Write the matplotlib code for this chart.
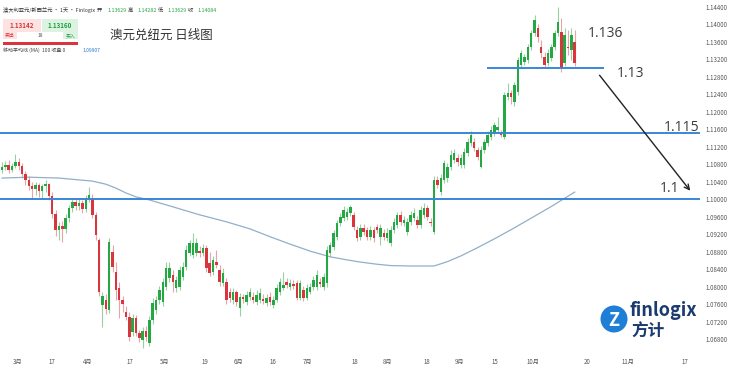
import numpy as np
import matplotlib
matplotlib.use('Agg')
import matplotlib.pyplot as plt
from matplotlib.patches import Rectangle, Circle

plt.rcParams['font.family'] = ['Noto Sans CJK SC', 'DejaVu Sans']

# AUD/NZD daily candles
opens = [
    1.1066, 1.1073, 1.1078, 1.1066, 1.1076, 1.1085, 1.1076, 1.1057, 1.1044, 1.1030,
    1.1023, 1.1032, 1.1018, 1.1030, 1.1034, 1.1007, 1.0966, 1.0929, 1.0938, 1.0932,
    1.0957, 1.0980, 1.0993, 1.0984, 1.0991, 1.0977, 1.1000, 1.1002, 1.0964, 1.0906,
    1.0758, 1.0769, 1.0746, 1.0879, 1.0833, 1.0797, 1.0769, 1.0742, 1.0730, 1.0696,
    1.0728, 1.0694, 1.0678, 1.0698, 1.0671, 1.0724, 1.0746, 1.0769, 1.0765, 1.0799,
    1.0820, 1.0826, 1.0797, 1.0799, 1.0822, 1.0845, 1.0877, 1.0872, 1.0877, 1.0881,
    1.0877, 1.0888, 1.0854, 1.0833, 1.0856, 1.0838, 1.0808, 1.0810, 1.0788, 1.0769,
    1.0788, 1.0751, 1.0776, 1.0765, 1.0776, 1.0776, 1.0765, 1.0769, 1.0772, 1.0762,
    1.0776, 1.0758, 1.0769, 1.0788, 1.0797, 1.0810, 1.0799, 1.0806, 1.0808, 1.0774,
    1.0792, 1.0774, 1.0788, 1.0799, 1.0799, 1.0810, 1.0799, 1.0808, 1.0877, 1.0890,
    1.0913, 1.0945, 1.0957, 1.0959, 1.0968, 1.0964, 1.0929, 1.0913, 1.0934, 1.0929,
    1.0913, 1.0929, 1.0936, 1.0913, 1.0922, 1.0911, 1.0900, 1.0929, 1.0941, 1.0964,
    1.0945, 1.0925, 1.0948, 1.0957, 1.0952, 1.0941, 1.0964, 1.0980, 1.0948, 1.0925,
    1.1044, 1.1016, 1.1044, 1.1048, 1.1073, 1.1089, 1.1094, 1.1078, 1.1078, 1.1105,
    1.1128, 1.1130, 1.1112, 1.1073, 1.1112, 1.1128, 1.1142, 1.1151, 1.1158, 1.1151,
    1.1142, 1.1233, 1.1242, 1.1222, 1.1245, 1.1306, 1.1313, 1.1318, 1.1348, 1.1380,
    1.1391, 1.1348, 1.1325, 1.1311, 1.1322, 1.1348, 1.1380, 1.1382, 1.1311, 1.1348,
    1.1341, 1.1359,
]
highs = [
    1.1085, 1.1087, 1.1089, 1.1082, 1.1103, 1.1094, 1.1082, 1.1064, 1.1053, 1.1039,
    1.1039, 1.1037, 1.1034, 1.1044, 1.1037, 1.1016, 1.0975, 1.0948, 1.0950, 1.0966,
    1.0986, 1.1002, 1.1002, 1.1000, 1.0998, 1.1009, 1.1028, 1.1012, 1.0970, 1.0911,
    1.0788, 1.0783, 1.0911, 1.0895, 1.0856, 1.0810, 1.0778, 1.0756, 1.0742, 1.0737,
    1.0735, 1.0701, 1.0708, 1.0710, 1.0733, 1.0774, 1.0778, 1.0801, 1.0820, 1.0856,
    1.0856, 1.0838, 1.0824, 1.0847, 1.0856, 1.0895, 1.0906, 1.0922, 1.0911, 1.0893,
    1.0897, 1.0895, 1.0879, 1.0870, 1.0884, 1.0849, 1.0842, 1.0820, 1.0797, 1.0797,
    1.0792, 1.0785, 1.0783, 1.0790, 1.0797, 1.0788, 1.0792, 1.0797, 1.0783, 1.0783,
    1.0788, 1.0778, 1.0806, 1.0820, 1.0833, 1.0820, 1.0817, 1.0815, 1.0815, 1.0815,
    1.0801, 1.0806, 1.0808, 1.0824, 1.0838, 1.0820, 1.0831, 1.0893, 1.0902, 1.0929,
    1.0952, 1.0968, 1.0984, 1.0980, 1.0986, 1.0970, 1.0938, 1.0943, 1.0943, 1.0936,
    1.0938, 1.0936, 1.0943, 1.0943, 1.0932, 1.0934, 1.0938, 1.0957, 1.0970, 1.0973,
    1.0961, 1.0957, 1.0973, 1.0980, 1.0961, 1.0984, 1.0991, 1.0986, 1.0957, 1.1053,
    1.1053, 1.1057, 1.1089, 1.1082, 1.1112, 1.1114, 1.1103, 1.1103, 1.1117, 1.1140,
    1.1156, 1.1140, 1.1119, 1.1121, 1.1137, 1.1156, 1.1167, 1.1176, 1.1188, 1.1158,
    1.1245, 1.1265, 1.1249, 1.1268, 1.1325, 1.1341, 1.1332, 1.1354, 1.1386, 1.1421,
    1.1400, 1.1364, 1.1336, 1.1343, 1.1354, 1.1386, 1.1439, 1.1414, 1.1391, 1.1386,
    1.1391, 1.1386,
]
lows = [
    1.1060, 1.1066, 1.1060, 1.1062, 1.1071, 1.1066, 1.1048, 1.1032, 1.1021, 1.1002,
    1.1009, 1.1005, 1.1000, 1.1016, 1.0998, 1.0957, 1.0916, 1.0906, 1.0902, 1.0922,
    1.0948, 1.0970, 1.0975, 1.0975, 1.0968, 1.0970, 1.0993, 1.0957, 1.0906, 1.0778,
    1.0708, 1.0737, 1.0740, 1.0833, 1.0769, 1.0728, 1.0742, 1.0724, 1.0676, 1.0687,
    1.0687, 1.0673, 1.0660, 1.0676, 1.0664, 1.0714, 1.0737, 1.0760, 1.0756, 1.0792,
    1.0810, 1.0788, 1.0788, 1.0792, 1.0815, 1.0838, 1.0870, 1.0865, 1.0870, 1.0868,
    1.0870, 1.0833, 1.0824, 1.0826, 1.0842, 1.0801, 1.0801, 1.0760, 1.0765, 1.0760,
    1.0756, 1.0733, 1.0762, 1.0758, 1.0769, 1.0762, 1.0758, 1.0762, 1.0760, 1.0756,
    1.0758, 1.0751, 1.0765, 1.0781, 1.0792, 1.0797, 1.0792, 1.0794, 1.0769, 1.0769,
    1.0767, 1.0769, 1.0783, 1.0792, 1.0792, 1.0799, 1.0792, 1.0799, 1.0868, 1.0884,
    1.0906, 1.0938, 1.0950, 1.0952, 1.0961, 1.0929, 1.0904, 1.0906, 1.0918, 1.0906,
    1.0906, 1.0902, 1.0922, 1.0895, 1.0906, 1.0904, 1.0893, 1.0922, 1.0934, 1.0941,
    1.0938, 1.0918, 1.0941, 1.0950, 1.0934, 1.0934, 1.0957, 1.0952, 1.0938, 1.0920,
    1.1025, 1.1009, 1.1037, 1.1039, 1.1066, 1.1082, 1.1076, 1.1071, 1.1071, 1.1098,
    1.1121, 1.1110, 1.1089, 1.1071, 1.1105, 1.1121, 1.1135, 1.1144, 1.1151, 1.1142,
    1.1137, 1.1226, 1.1217, 1.1213, 1.1238, 1.1300, 1.1306, 1.1311, 1.1341, 1.1373,
    1.1359, 1.1322, 1.1300, 1.1304, 1.1316, 1.1341, 1.1373, 1.1290, 1.1304, 1.1329,
    1.1318, 1.1304,
]
closes = [
    1.1073, 1.1078, 1.1066, 1.1076, 1.1085, 1.1076, 1.1057, 1.1044, 1.1030, 1.1023,
    1.1032, 1.1018, 1.1030, 1.1034, 1.1007, 1.0966, 1.0929, 1.0938, 1.0932, 1.0957,
    1.0980, 1.0993, 1.0984, 1.0991, 1.0977, 1.1000, 1.1009, 1.0964, 1.0918, 1.0788,
    1.0778, 1.0749, 1.0902, 1.0845, 1.0792, 1.0769, 1.0760, 1.0730, 1.0685, 1.0728,
    1.0694, 1.0682, 1.0698, 1.0685, 1.0724, 1.0762, 1.0769, 1.0792, 1.0810, 1.0842,
    1.0842, 1.0810, 1.0815, 1.0838, 1.0845, 1.0884, 1.0900, 1.0900, 1.0900, 1.0877,
    1.0888, 1.0842, 1.0831, 1.0861, 1.0849, 1.0810, 1.0831, 1.0769, 1.0774, 1.0788,
    1.0765, 1.0776, 1.0772, 1.0781, 1.0788, 1.0769, 1.0781, 1.0785, 1.0767, 1.0774,
    1.0765, 1.0769, 1.0797, 1.0810, 1.0804, 1.0804, 1.0808, 1.0801, 1.0774, 1.0808,
    1.0774, 1.0797, 1.0799, 1.0815, 1.0826, 1.0806, 1.0822, 1.0884, 1.0895, 1.0922,
    1.0945, 1.0959, 1.0975, 1.0970, 1.0982, 1.0936, 1.0911, 1.0934, 1.0925, 1.0913,
    1.0929, 1.0911, 1.0929, 1.0934, 1.0913, 1.0922, 1.0929, 1.0948, 1.0964, 1.0948,
    1.0952, 1.0948, 1.0964, 1.0968, 1.0941, 1.0975, 1.0980, 1.0959, 1.0945, 1.1044,
    1.1032, 1.1048, 1.1082, 1.1073, 1.1101, 1.1105, 1.1085, 1.1094, 1.1108, 1.1130,
    1.1146, 1.1117, 1.1096, 1.1112, 1.1130, 1.1146, 1.1158, 1.1169, 1.1165, 1.1146,
    1.1238, 1.1242, 1.1233, 1.1261, 1.1318, 1.1334, 1.1325, 1.1348, 1.1380, 1.1409,
    1.1370, 1.1334, 1.1306, 1.1334, 1.1348, 1.1380, 1.1405, 1.1300, 1.1375, 1.1345,
    1.1375, 1.1311,
]

# 100-day moving average, sampled along the curve
ma_idx = [0, 8, 17, 27, 31, 34, 37, 40, 44, 52, 59, 67, 74, 80, 86, 92, 98, 103,
          107, 112, 116, 122, 129, 133, 137, 142, 147, 152, 157, 164, 171]
ma_vals = [1.1048, 1.1050, 1.1048, 1.1041, 1.1034, 1.1025, 1.1014, 1.1005, 1.0998,
           1.0980, 1.0964, 1.0948, 1.0932, 1.0914, 1.0897, 1.0881, 1.0868, 1.0861,
           1.0856, 1.0851, 1.0848, 1.0847, 1.0847, 1.0857, 1.0870, 1.0889, 1.0909,
           1.0930, 1.0952, 1.0983, 1.1016]

tick_pos = [4.5, 14.9, 25.7, 38.2, 48.4, 60.6, 70.7, 80.9, 91.3, 105.4,
            115.2, 126.9, 136.7, 147.2, 158.5, 174.6, 186.9, 203.9]
tick_labels = ['3月', '17', '4月', '17', '5月', '19', '6月', '16', '7月', '18',
               '8月', '18', '9月', '15', '10月', '20', '11月', '17']

levels = [1.1, 1.115]
top_level = 1.13
top_level_span = (144.8, 179.7)

UP = '#23a844'
DOWN = '#d8353d'
LINE = '#3a86d8'
TXT = '#3c3c3c'

o = np.array(opens)
h = np.array(highs)
l = np.array(lows)
c = np.array(closes)
x = np.arange(len(c))
up = c >= o

fig = plt.figure(figsize=(7.4, 3.68), dpi=100)
ax = fig.add_axes([0, 18 / 368, 700 / 740, 350 / 368])

# wicks
ax.vlines(x[up], l[up], h[up], color='#94d2a3', lw=0.8, zorder=2)
ax.vlines(x[~up], l[~up], h[~up], color='#eaa3a7', lw=0.8, zorder=2)
# bodies
body = np.maximum(np.abs(c - o), 0.00015)
ax.bar(x[up], body[up], bottom=np.minimum(o, c)[up], width=0.74, color=UP, zorder=3)
ax.bar(x[~up], body[~up], bottom=np.minimum(o, c)[~up], width=0.74, color=DOWN, zorder=3)

ax.plot(ma_idx, ma_vals, color='#93afc8', lw=0.9, zorder=2)

for lv in levels:
    ax.axhline(lv, color=LINE, lw=1.4, zorder=4)
ax.hlines(top_level, top_level_span[0], top_level_span[1], color=LINE, lw=1.4, zorder=4)

ax.annotate('', xy=(206.0, 1.1014), xytext=(177.9, 1.1288),
            arrowprops=dict(arrowstyle='->', color='#222222', lw=1.0,
                            mutation_scale=9), zorder=5)

ax.text(175.0, 1.1379, '1.136', fontsize=10, color=TXT, va='center', family='Open Sans')
ax.text(183.6, 1.1288, '1.13', fontsize=10, color=TXT, va='center', family='Open Sans')
ax.text(197.6, 1.1163, '1.115', fontsize=10, color=TXT, va='center', family='Open Sans')
ax.text(196.4, 1.1023, '1.1', fontsize=10, color=TXT, va='center', family='Open Sans')

ax.set_xlim(-0.6, 208.4)
ax.set_ylim(1.0655, 1.1455)
for s in ax.spines.values():
    s.set_visible(False)
ax.yaxis.tick_right()
yt = np.arange(1.068, 1.1441, 0.004)
ax.set_yticks(yt)
ax.set_yticklabels([f'{v:.5f}' for v in yt])
ax.set_xticks(tick_pos)
ax.set_xticklabels(tick_labels)
ax.tick_params(axis='y', length=0, labelsize=4.4, labelcolor='#555555', pad=4)
ax.tick_params(axis='x', length=0, labelsize=4.4, labelcolor='#555555', pad=6)

# overlay in pixel coordinates for the header widgets and logo
ov = fig.add_axes([0, 0, 1, 1])
ov.set_xlim(0, 740)
ov.set_ylim(368, 0)
ov.axis('off')

ov.text(3, 10, '澳大利亚元/新西兰元 · 1天 · Finlogix', fontsize=3.8, color='#333333', va='center')
for lab, xl, val, xv in [('开', 97, '1.13629', 107), ('高', 128, '1.14282', 137),
                         ('低', 158, '1.13629', 167), ('收', 188, '1.14084', 197)]:
    ov.text(xl, 10, lab, fontsize=3.8, color='#333333', va='center')
    ov.text(xv, 10, val, fontsize=3.8, color='#26a644', va='center')

ov.add_patch(Rectangle((3, 19), 38, 13, facecolor='#fde2e2', edgecolor='none'))
ov.add_patch(Rectangle((42, 19), 36, 13, facecolor='#ddf3e1', edgecolor='none'))
ov.text(22, 25.5, '1.13142', fontsize=4.5, color=DOWN, ha='center', va='center', weight='bold')
ov.text(60, 25.5, '1.13160', fontsize=4.5, color='#1e9e3e', ha='center', va='center', weight='bold')
ov.add_patch(Rectangle((3, 32), 14, 7, facecolor='#fde2e2', edgecolor='none'))
ov.add_patch(Rectangle((63, 32), 15, 7, facecolor='#ddf3e1', edgecolor='none'))
ov.text(10, 35.5, '卖出', fontsize=3.5, color=DOWN, ha='center', va='center')
ov.text(40, 35.5, '18', fontsize=3.5, color='#555555', ha='center', va='center')
ov.text(70.5, 35.5, '买入', fontsize=3.5, color='#1e9e3e', ha='center', va='center')
ov.add_patch(Rectangle((3, 42), 75, 3, facecolor=DOWN, edgecolor='none'))
ov.text(3, 50, '移动平均线 (MA)  100 收盘 0', fontsize=3.6, color='#444444', va='center')
ov.text(83, 50, '1.09907', fontsize=3.6, color='#2a78d0', va='center')

ov.text(110, 35, '澳元兑纽元 日线图', fontsize=9, color='#333333', va='center')

# logo
ov.add_patch(Circle((614, 319), 13.5, facecolor='#1f7fd6', edgecolor='none'))
ov.text(614, 320, 'Z', fontsize=13, color='white', ha='center', va='center', weight='bold')
ov.text(630, 310, 'finlogix', fontsize=13, color='#1b3b6f', va='center', weight='bold')
ov.text(631, 332, '方计', fontsize=12, color='#1b3b6f', va='center', weight='bold')

fig.savefig('out.png', dpi=100)
